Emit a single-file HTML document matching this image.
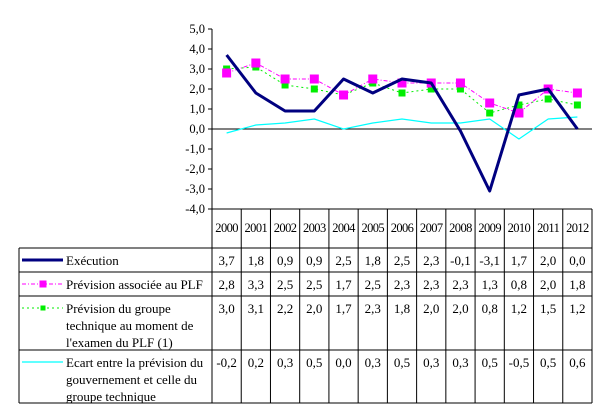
<!DOCTYPE html>
<html><head><meta charset="utf-8"><style>
html,body{margin:0;padding:0;background:#fff;}
svg{display:block;}
svg text{font-family:"Liberation Serif","Times New Roman",serif;}
</style></head><body>
<svg id="c" width="608" height="410" xmlns="http://www.w3.org/2000/svg"></svg>
<script>
const years=["2000","2001","2002","2003","2004","2005","2006","2007","2008","2009","2010","2011","2012"];
const execution=[3.7,1.8,0.9,0.9,2.5,1.8,2.5,2.3,-0.1,-3.1,1.7,2.0,0.0];
const prevPlf=[2.8,3.3,2.5,2.5,1.7,2.5,2.3,2.3,2.3,1.3,0.8,2.0,1.8];
const prevGroupe=[3.0,3.1,2.2,2.0,1.7,2.3,1.8,2.0,2.0,0.8,1.2,1.5,1.2];
const ecart=[-0.2,0.2,0.3,0.5,0.0,0.3,0.5,0.3,0.3,0.5,-0.5,0.5,0.6];
const yTicks=[5,4,3,2,1,0,-1,-2,-3,-4];

const NS="http://www.w3.org/2000/svg";
const svg=document.getElementById('c');
const X0=212,X1=592,Y0=29,Y1=209,YMIN=-4,YMAX=5;
const FONT='Liberation Serif, Times New Roman, serif';
const cw=(X1-X0)/years.length;
const xc=i=>X0+cw*(i+0.5);
const y=v=>Y1-(v-YMIN)/(YMAX-YMIN)*(Y1-Y0);
const fmt=v=>v.toFixed(1).replace('.',',');
function el(t,a,p){const e=document.createElementNS(NS,t);for(const k in a)e.setAttribute(k,a[k]);if(t==='text')e.setAttribute('font-family',FONT);(p||svg).appendChild(e);return e;}

const ax=el('line',{x1:X0,y1:Y0,x2:X0,y2:Y1,stroke:'#000','stroke-width':1});


yTicks.forEach(v=>{
  el('line',{x1:X0-4,y1:y(v),x2:X0,y2:y(v),stroke:'#000'});
  const t=el('text',{x:X0-7,y:y(v)+4,'text-anchor':'end','font-size':12.5});
  t.textContent=fmt(v);
  
  
});
const zl=el('line',{x1:X0,y1:y(0),x2:X1,y2:y(0),stroke:'#000'});



const T=[209,248,272,296,350,403];
const TL=19;
el('line',{x1:X0,y1:T[0],x2:X0,y2:T[5],stroke:'#000'});
for(let i=1;i<=years.length;i++){const x=X0+cw*i;el('line',{x1:x,y1:T[0],x2:x,y2:T[5],stroke:'#000'});}
el('line',{x1:X0,y1:T[0],x2:X1,y2:T[0],stroke:'#000'});
for(let r=1;r<T.length;r++)el('line',{x1:TL,y1:T[r],x2:X1,y2:T[r],stroke:'#000'});
el('line',{x1:TL,y1:T[1],x2:TL,y2:T[5],stroke:'#000'});
years.forEach((yr,i)=>{
  const t=el('text',{x:xc(i),y:232,'text-anchor':'middle','font-size':12.5,'letter-spacing':'-0.6'});
  t.textContent=yr;
  
  
});

const series=[
 {name:'execution',data:execution,color:'#000080',w:3,dash:null,marker:0,label:['Exécution']},
 {name:'prevision-plf',data:prevPlf,color:'#ff00ff',w:1,dash:'4 2 1 2',marker:9,label:['Prévision associée au PLF']},
 {name:'prevision-groupe',data:prevGroupe,color:'#00ee00',w:1,dash:'2 3',marker:7,label:['Prévision du groupe','technique au moment de','l\'examen du PLF (1)']},
 {name:'ecart',data:ecart,color:'#00ffff',w:1.2,dash:null,marker:0,label:['Ecart entre la prévision du','gouvernement et celle du','groupe technique']}
];
[3,2,1,0].forEach(si=>{
  const s=series[si];
  const pts=s.data.map((v,i)=>xc(i)+','+y(v)).join(' ');
  const a={points:pts,fill:'none',stroke:s.color,'stroke-width':s.w,'stroke-linejoin':'round'};
  if(s.dash)a['stroke-dasharray']=s.dash;
  const pl=el('polyline',a);
  
  
  if(s.marker){s.data.forEach((v,i)=>{
    const m=el('rect',{x:xc(i)-s.marker/2,y:y(v)-s.marker/2,width:s.marker,height:s.marker,fill:s.color});
    
    
  });}
});

series.forEach((s,r)=>{
  const top=T[r+1];
  const ly=top+12;
  const la={x1:22,y1:ly,x2:63,y2:ly,stroke:s.color,'stroke-width':s.w};
  if(s.dash)la['stroke-dasharray']=s.dash;
  const ln=el('line',la);
  
  
  if(s.marker){el('rect',{x:43-s.marker/2+1,y:ly-s.marker/2+1,width:s.marker-2,height:s.marker-2,fill:s.color});}
  s.label.forEach((l,k)=>{
    const t=el('text',{x:66,y:top+17+k*17,'font-size':13});
    t.textContent=l;
    
    
  });
  s.data.forEach((v,i)=>{
    const t=el('text',{x:xc(i),y:top+17,'text-anchor':'middle','font-size':13});
    t.textContent=fmt(v);
    
    
  });
});
</script>
</body></html>
